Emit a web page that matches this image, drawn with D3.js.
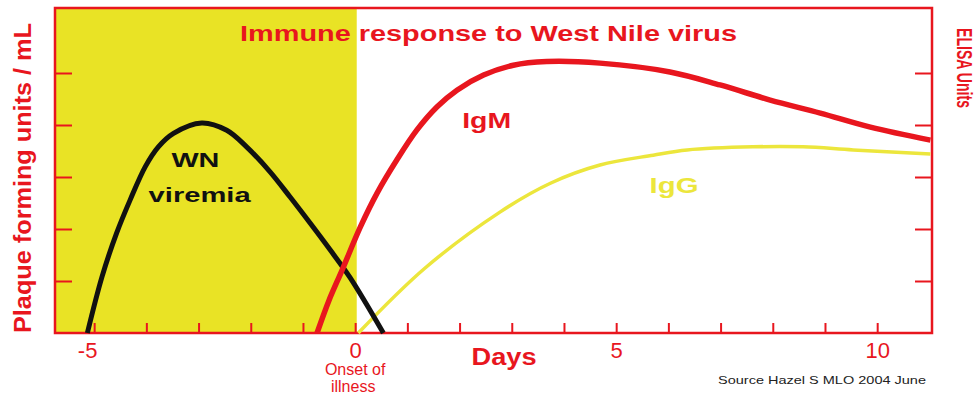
<!DOCTYPE html>
<html>
<head>
<meta charset="utf-8">
<script src="https://cdn.jsdelivr.net/npm/d3@7"></script>
<style>
  html, body { margin: 0; padding: 0; background: #fff; }
  svg { display: block; font-family: "Liberation Sans", Arial, sans-serif; }
</style>
</head>
<body>
<div id="chart"></div>
<script>
// days after onset of illness, and curve heights (arbitrary units)
const viremiaDays = [-5.13, -4.85, -4.57, -4.31, -4.02, -3.77, -3.48, -2.94, -2.46, -2.08, -1.63, -1.25, -0.86, -0.48, -0.1, 0.54];
const viremiaVals = [0, 1.08, 1.92, 2.56, 3.2, 3.58, 3.84, 4.04, 3.9, 3.58, 3.1, 2.62, 2.11, 1.6, 1.07, 0];

const igmDays = [-0.73, -0.5, -0.25, 0.1, 0.42, 0.8, 1.18, 1.57, 1.95, 2.46, 3.03, 3.67, 4.69, 6.03, 6.99, 7.95, 8.91, 9.87, 11.02];
const igmVals = [0, 0.63, 1.21, 2.04, 2.69, 3.33, 3.9, 4.35, 4.67, 4.96, 5.15, 5.22, 5.19, 5.02, 4.77, 4.48, 4.23, 3.96, 3.71];

const iggDays = [0.06, 1.34, 2.78, 3.74, 4.69, 5.71, 6.36, 7.62, 8.58, 9.54, 11.02];
const iggVals = [0, 1.25, 2.33, 2.88, 3.23, 3.42, 3.52, 3.58, 3.58, 3.52, 3.44];

const xTicks = d3.range(-5, 11);
const xLabels = [-5, 0, 5, 10];
const yTicks = [1, 2, 3, 4, 5];

const width = 979, height = 395;
const red = "#e8161e";
const shade = "#e9e325";
const iggColor = "#ece63c";

const x = d3.scaleLinear().domain([-5.75, 11.05]).range([55, 932]);
const y = d3.scaleLinear().domain([0, 6.25]).range([333, 8]);

const svg = d3.select("#chart").append("svg")
    .attr("width", width)
    .attr("height", height);

// yellow shading up to onset of illness
svg.append("rect")
    .attr("x", x(-5.75))
    .attr("y", y(6.25))
    .attr("width", x(0.03) - x(-5.75))
    .attr("height", y(0) - y(6.25))
    .attr("fill", shade);

// axes (ticks drawn inward)
const xAxis = d3.axisBottom(x)
    .tickValues(xTicks)
    .tickSize(-10)
    .tickPadding(9)
    .tickFormat(d => xLabels.includes(d) ? d : "");

const gx = svg.append("g")
    .attr("transform", `translate(0,${y(0)})`)
    .call(xAxis);
gx.select(".domain").remove();
gx.selectAll(".tick line").attr("stroke", red).attr("stroke-width", 2);
gx.selectAll(".tick text")
    .attr("fill", red)
    .attr("font-size", 22)
    .attr("font-family", "Liberation Sans, Arial, sans-serif")
    .attr("dx", d => d < 0 ? -7 : 0);

const gl = svg.append("g")
    .attr("transform", `translate(${x(-5.75)},0)`)
    .call(d3.axisLeft(y).tickValues(yTicks).tickSize(-17).tickFormat(""));
gl.select(".domain").remove();
gl.selectAll(".tick line").attr("stroke", red).attr("stroke-width", 2);

const gr = svg.append("g")
    .attr("transform", `translate(${x(11.05)},0)`)
    .call(d3.axisRight(y).tickValues(yTicks).tickSize(-17).tickFormat(""));
gr.select(".domain").remove();
gr.selectAll(".tick line").attr("stroke", red).attr("stroke-width", 2);

// frame
svg.append("rect")
    .attr("x", x(-5.75))
    .attr("y", y(6.25))
    .attr("width", x(11.05) - x(-5.75))
    .attr("height", y(0) - y(6.25))
    .attr("fill", "none")
    .attr("stroke", red)
    .attr("stroke-width", 2.5);

// curves
const line = d3.line()
    .curve(d3.curveCatmullRom.alpha(0.5))
    .x(d => x(d[0]))
    .y(d => y(d[1]));

const series = [
    {days: iggDays, vals: iggVals, color: iggColor, w: 3.5},
    {days: viremiaDays, vals: viremiaVals, color: "#111111", w: 5},
    {days: igmDays, vals: igmVals, color: red, w: 5.5}
];

series.forEach(s => {
    svg.append("path")
        .datum(d3.zip(s.days, s.vals))
        .attr("fill", "none")
        .attr("stroke", s.color)
        .attr("stroke-width", s.w)
        .attr("stroke-linejoin", "round")
        .attr("d", line);
});

// labels in the plot
function label(txt, px, py, size, color, len) {
    svg.append("text")
        .attr("x", px).attr("y", py)
        .attr("text-anchor", "middle")
        .attr("textLength", len).attr("lengthAdjust", "spacingAndGlyphs")
        .attr("font-size", size).attr("font-weight", "bold")
        .attr("fill", color)
        .text(txt);
}

svg.append("text")
    .attr("x", 240).attr("y", 41)
    .attr("textLength", 497).attr("lengthAdjust", "spacingAndGlyphs")
    .attr("font-size", 22).attr("font-weight", "bold")
    .attr("fill", red)
    .text("Immune response to West Nile virus");

label("IgM", x(2.52), y(3.94), 22, red, 49);
label("IgG", x(6.11), y(2.69), 22, iggColor, 49);
label("WN", x(-3.06), y(3.19), 21, "#111", 48);
label("viremia", x(-2.98), y(2.52), 21, "#111", 102);
label("Days", 504, 365, 23, red, 65);

// axis titles and notes
svg.append("text")
    .attr("x", x(0)).attr("y", 375)
    .attr("text-anchor", "middle")
    .attr("font-size", 16)
    .attr("fill", red)
    .text("Onset of");

svg.append("text")
    .attr("x", x(0) - 2).attr("y", 392)
    .attr("text-anchor", "middle")
    .attr("font-size", 16)
    .attr("fill", red)
    .text("illness");

svg.append("text")
    .attr("transform", "translate(31,178) rotate(-90)")
    .attr("text-anchor", "middle")
    .attr("textLength", 310).attr("lengthAdjust", "spacingAndGlyphs")
    .attr("font-size", 23).attr("font-weight", "bold")
    .attr("fill", red)
    .text("Plaque forming units / mL");

svg.append("text")
    .attr("transform", "translate(957,68) rotate(90)")
    .attr("text-anchor", "middle")
    .attr("textLength", 80).attr("lengthAdjust", "spacingAndGlyphs")
    .attr("font-size", 22).attr("font-weight", "bold")
    .attr("fill", red)
    .text("ELISA Units");

svg.append("text")
    .attr("x", 718).attr("y", 384)
    .attr("textLength", 208).attr("lengthAdjust", "spacingAndGlyphs")
    .attr("font-size", 11)
    .attr("fill", "#222")
    .text("Source  Hazel S MLO 2004 June");
</script>
</body>
</html>
